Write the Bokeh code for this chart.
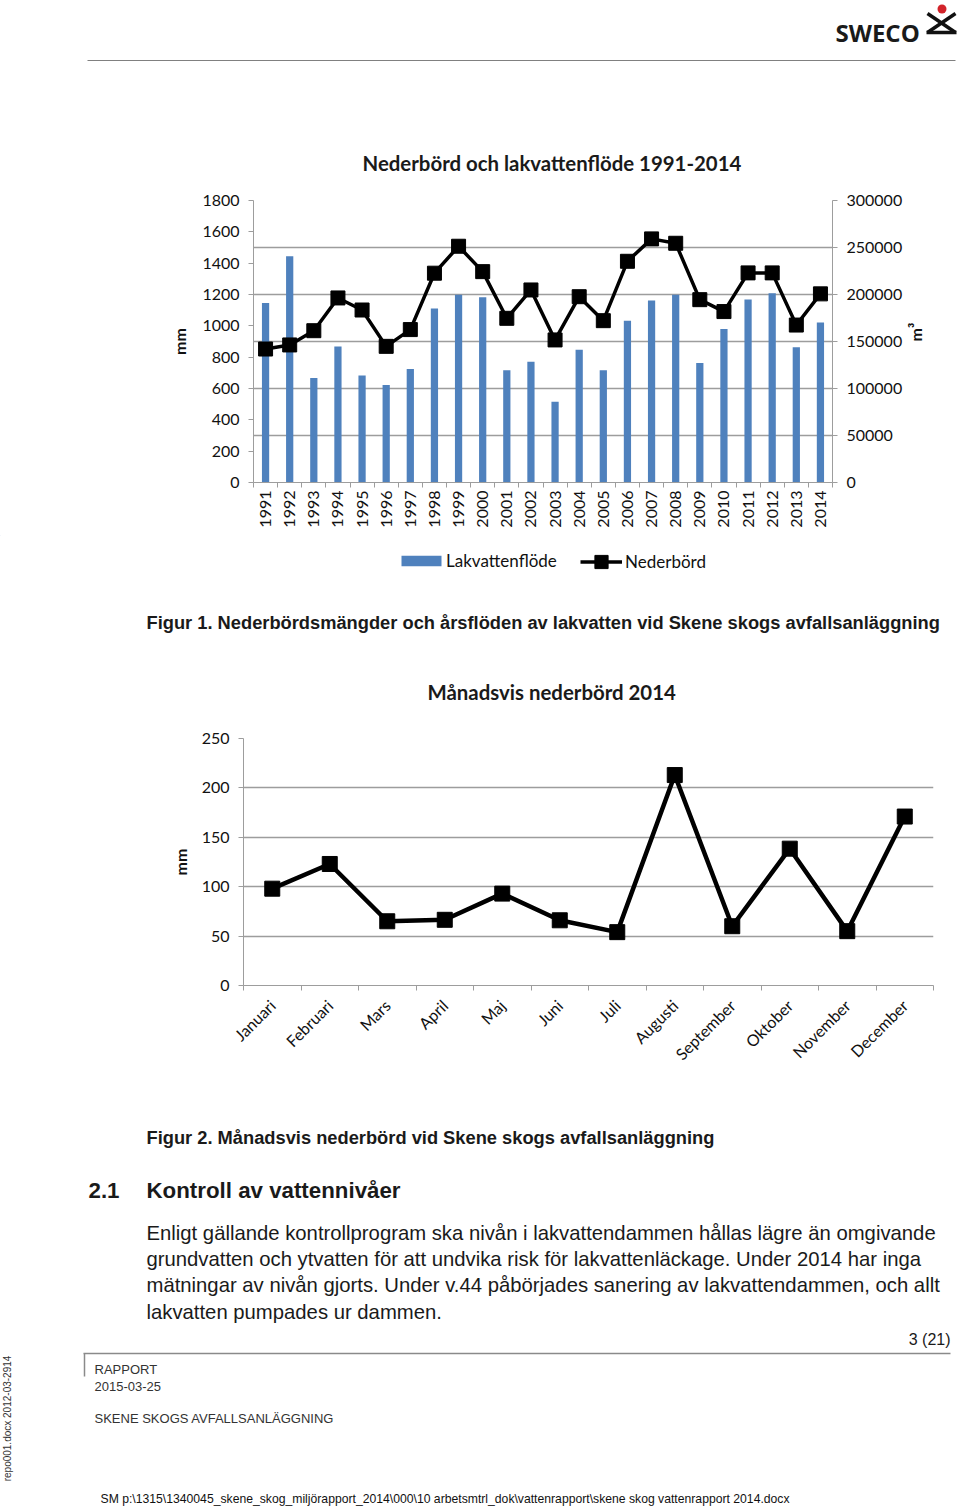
import math
from bokeh.plotting import figure
from bokeh.models import (Range1d, LinearAxis, FixedTicker, Legend, LegendItem,
                          BasicTickFormatter)
from bokeh.embed import file_html
from bokeh.resources import INLINE
from bokeh.core.properties import value

# ---------------- data ----------------
years = ["1991", "1992", "1993", "1994", "1995", "1996", "1997", "1998", "1999", "2000",
         "2001", "2002", "2003", "2004", "2005", "2006", "2007", "2008", "2009", "2010",
         "2011", "2012", "2013", "2014"]
lakvattenflode_m3 = [191000, 240700, 111200, 144800, 113700, 103700, 120700, 185000,
                     199800, 197000, 119300, 128500, 85800, 141300, 119300, 172200,
                     193500, 199800, 127200, 163300, 194800, 201300, 143800, 170300]
nederbord_mm = [852, 878, 969, 1178, 1101, 869, 976, 1336, 1508, 1346, 1048, 1229,
                910, 1186, 1033, 1412, 1555, 1527, 1167, 1091, 1338, 1338, 1005, 1204]
mm_ticks = [0, 200, 400, 600, 800, 1000, 1200, 1400, 1600, 1800]
m3_ticks = [0, 50000, 100000, 150000, 200000, 250000, 300000]

months = ["Januari", "Februari", "Mars", "April", "Maj", "Juni", "Juli", "Augusti",
          "September", "Oktober", "November", "December"]
monthly_mm = [98, 123, 65, 66.5, 93, 66, 54, 213, 60, 138.5, 55, 171]
monthly_ticks = [0, 50, 100, 150, 200, 250]

CHART_FONT = "Lato"
DOC_FONT = "Liberation Sans"
GRID = "#9d9d9d"
BLUE = "#4F81BD"
W = 960


def page_fig(top, h):
    p = figure(width=W, height=h, x_range=Range1d(0, W), y_range=Range1d(top + h, top),
               x_axis_type=None, y_axis_type=None, output_backend="svg",
               toolbar_location=None, min_border=0)
    p.grid.visible = False
    p.outline_line_color = None
    return p


def txt(p, x, y, s, size, bold=False, font=DOC_FONT, align="left", color="#1a1a1a", angle=0):
    p.text(x=[x], y=[y], text=[s], text_font=value(font), text_font_size=size,
           text_font_style="bold" if bold else "normal", text_align=align,
           text_baseline="middle", text_color=color, angle=angle)


def style_title(p, text, offset, standoff):
    p.title.text = text
    p.title.align = "left"
    p.title.offset = offset
    p.title.standoff = standoff
    p.title.text_font = CHART_FONT
    p.title.text_font_size = "20.4px"
    p.title.text_font_style = "bold"
    p.title.text_color = "#1a1a1a"


def style_yaxis(ax, standoff=10):
    ax.axis_line_color = GRID
    ax.major_tick_line_color = GRID
    ax.major_tick_out = 5
    ax.major_tick_in = 0
    ax.minor_tick_line_color = None
    ax.major_label_text_font = CHART_FONT
    ax.major_label_text_font_size = "16px"
    ax.major_label_text_color = "#111111"
    ax.major_label_standoff = 9
    ax.axis_label_text_font = CHART_FONT
    ax.axis_label_text_font_size = "16px"
    ax.axis_label_text_font_style = "bold"
    ax.axis_label_text_color = "#111111"
    ax.axis_label_standoff = standoff


def style_xaxis(ax, positions, labels, orientation, standoff):
    ax.ticker = FixedTicker(ticks=positions,
                            minor_ticks=[v - 0.5 for v in positions] + [positions[-1] + 0.5])
    ax.major_label_overrides = {v: s for v, s in zip(positions, labels)}
    ax.major_label_orientation = orientation
    ax.major_tick_line_color = None
    ax.major_tick_out = 0
    ax.major_tick_in = 0
    ax.minor_tick_out = 5
    ax.minor_tick_in = 0
    ax.minor_tick_line_color = GRID
    ax.axis_line_color = GRID
    ax.major_label_standoff = standoff
    ax.major_label_text_font = CHART_FONT
    ax.major_label_text_font_size = "16px"
    ax.major_label_text_color = "#111111"


# ---------------- header (page y 0-120) ----------------
hdr = page_fig(0, 120)
txt(hdr, 835, 32, "SWECO", "24px", bold=True, font="Open Sans", color="#1a1a1a")
hdr.scatter(x=[941.5], y=[8.5], size=9, marker="circle", color="#d2232a", line_color=None)
hdr.segment(x0=[927, 955, 926], y0=[13, 13, 32], x1=[955, 927, 956], y1=[32, 32, 32],
            line_width=3.5, line_color="#111111")
hdr.segment(x0=[87], y0=[60], x1=[955], y1=[60], line_width=1, line_color="#808080")

# ---------------- chart 1 (page y 120-535) ----------------
xs = list(range(1, len(years) + 1))
p1 = figure(width=W, height=415, x_range=Range1d(0.5, len(years) + 0.5),
            y_range=Range1d(0, 1800), output_backend="svg", toolbar_location=None,
            min_border_left=253, min_border_right=128, min_border_top=80,
            min_border_bottom=53)
p1.extra_y_ranges = {"m3": Range1d(0, 300000)}
p1.outline_line_color = None
style_title(p1, "Nederbörd och lakvattenflöde 1991-2014", 109, 51)

bars = p1.vbar(x=xs, top=lakvattenflode_m3, width=0.3, y_range_name="m3",
               fill_color=BLUE, line_color=None)
ln = p1.line(xs, nederbord_mm, line_width=3.5, line_color="black")
sq = p1.scatter(xs, nederbord_mm, marker="square", size=14, color="black")

lax = p1.yaxis[0]
lax.ticker = FixedTicker(ticks=mm_ticks)
lax.axis_label = "mm"
style_yaxis(lax, 10)
rax = LinearAxis(y_range_name="m3", ticker=FixedTicker(ticks=m3_ticks),
                 formatter=BasicTickFormatter(use_scientific=False), axis_label="m³")
style_yaxis(rax, 10)
rax.axis_label_orientation = math.pi / 2
p1.add_layout(rax, "right")

p1.xgrid.visible = False
p1.ygrid[0].y_range_name = "m3"
p1.ygrid[0].ticker = FixedTicker(ticks=m3_ticks)
p1.ygrid.grid_line_color = GRID
p1.ygrid.grid_line_width = 1.5
style_xaxis(p1.xaxis[0], xs, years, math.pi / 2, 3)

# ---------------- legend + caption 1 (page y 535-640) ----------------
mid = page_fig(535, 105)
# legend swatch renderers (styled like the chart-1 series, kept off-canvas)
sw_bar = mid.vbar(x=[-100], top=[0], width=1, fill_color=BLUE, line_color=None)
sw_line = mid.line(x=[-100, -90], y=[0, 0], line_width=3.5, line_color="black")
sw_sq = mid.scatter(x=[-100], y=[0], marker="square", color="black")
leg_a = Legend(items=[LegendItem(label="Lakvattenflöde", renderers=[sw_bar])],
               location=(396, 69), border_line_color=None, background_fill_alpha=0,
               glyph_width=50, glyph_height=13, padding=0, margin=0, spacing=0,
               label_standoff=0, label_text_font=CHART_FONT, label_text_font_size="17px",
               label_text_color="#111111")
leg_b = Legend(items=[LegendItem(label="Nederbörd", renderers=[sw_line, sw_sq])],
               location=(580, 62.5), border_line_color=None, background_fill_alpha=0,
               glyph_width=42, glyph_height=33, padding=0, margin=0, spacing=0,
               label_standoff=3, label_text_font=CHART_FONT, label_text_font_size="17px",
               label_text_color="#111111")
mid.add_layout(leg_a)
mid.add_layout(leg_b)
txt(mid, 146, 622, "Figur 1. Nederbördsmängder och årsflöden av lakvatten vid Skene skogs avfallsanläggning",
    "18.3px", bold=True)

# ---------------- chart 2 (page y 640-1100) ----------------
ms = list(range(1, len(months) + 1))
p2 = figure(width=W, height=460, x_range=Range1d(0.5, len(months) + 0.5),
            y_range=Range1d(0, 250), output_backend="svg", toolbar_location=None,
            min_border_left=243, min_border_right=27, min_border_top=98,
            min_border_bottom=115)
p2.outline_line_color = None
style_title(p2, "Månadsvis nederbörd 2014", 184, 69)

p2.line(ms, monthly_mm, line_width=4.5, line_color="black")
p2.scatter(ms, monthly_mm, marker="square", size=15, color="black")

ay = p2.yaxis[0]
ay.ticker = FixedTicker(ticks=monthly_ticks)
ay.axis_label = "mm"
style_yaxis(ay, 9)

p2.xgrid.visible = False
p2.ygrid.ticker = FixedTicker(ticks=monthly_ticks)
p2.ygrid.grid_line_color = GRID
p2.ygrid.grid_line_width = 1.5
style_xaxis(p2.xaxis[0], ms, months, math.pi / 4, 12)

# ---------------- bottom text (page y 1100-1509) ----------------
bot = page_fig(1100, 409)
txt(bot, 146, 1137, "Figur 2. Månadsvis nederbörd vid Skene skogs avfallsanläggning", "18.3px", bold=True)
txt(bot, 88, 1190, "2.1", "22.3px", bold=True)
txt(bot, 146, 1190, "Kontroll av vattennivåer", "22.3px", bold=True)
para = ["Enligt gällande kontrollprogram ska nivån i lakvattendammen hållas lägre än omgivande",
        "grundvatten och ytvatten för att undvika risk för lakvattenläckage. Under 2014 har inga",
        "mätningar av nivån gjorts. Under v.44 påbörjades sanering av lakvattendammen, och allt",
        "lakvatten pumpades ur dammen."]
for i, line in enumerate(para):
    txt(bot, 146, 1232 + i * 26.4, line, "20.3px")
txt(bot, 950, 1339, "3 (21)", "16px", align="right")
bot.segment(x0=[83, 84], y0=[1353, 1353], x1=[950, 84], y1=[1353, 1376],
            line_color="#8a8a8a", line_width=1.5)
txt(bot, 94, 1369, "RAPPORT", "13px", color="#333333")
txt(bot, 94, 1386, "2015-03-25", "13px", color="#333333")
txt(bot, 94, 1418, "SKENE SKOGS AVFALLSANLÄGGNING", "13px", color="#333333")
txt(bot, 7, 1418, "repo001.docx 2012-03-2914", "10px", align="center", color="#333333",
    angle=math.pi / 2)
txt(bot, 100, 1498, "SM p:\\1315\\1340045_skene_skog_miljörapport_2014\\000\\10 arbetsmtrl_dok\\vattenrapport\\skene skog vattenrapport 2014.docx",
    "12.2px", color="#111111")

open("out.html", "w").write(file_html([hdr, p1, mid, p2, bot], INLINE))
